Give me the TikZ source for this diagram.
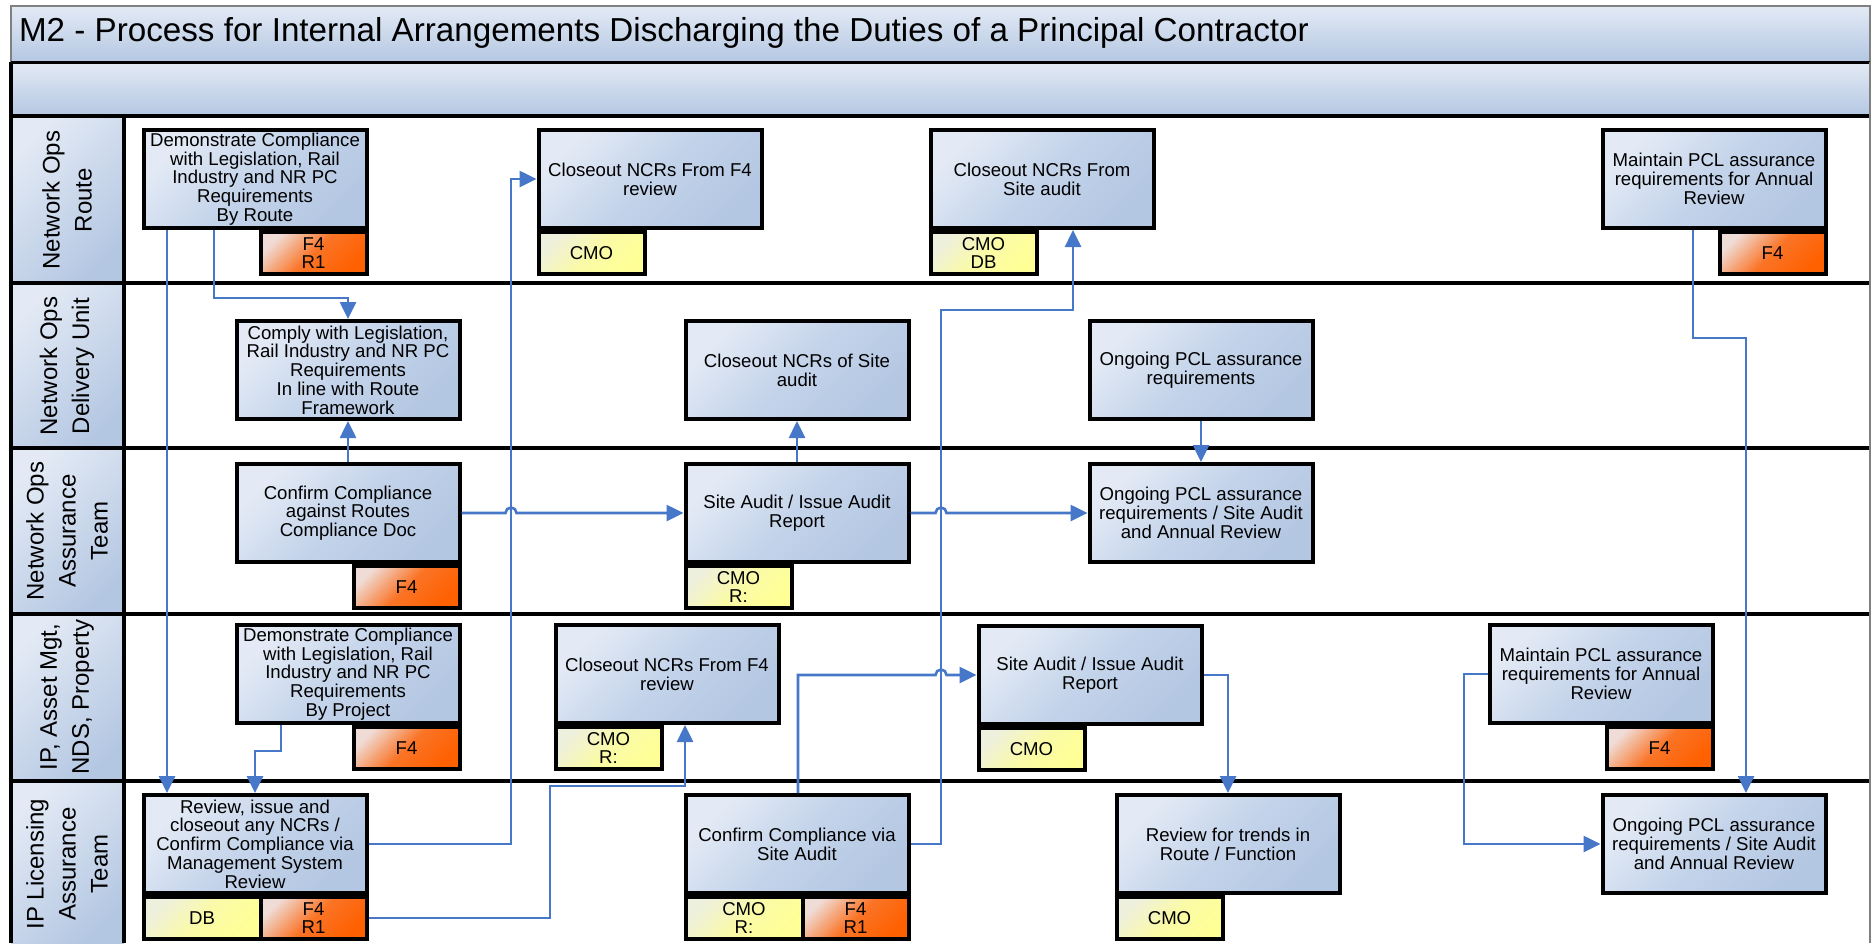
\documentclass[tikz,border=0pt]{standalone}
\usepackage{fontspec}
\setmainfont{Liberation Sans}
\usepackage{xcolor}
\usetikzlibrary{arrows.meta}

\definecolor{boxlite}{HTML}{E3EAF5}
\definecolor{boxdark}{HTML}{B4C7E2}
\definecolor{boxmid}{HTML}{C3D3EA}
\definecolor{ylwlite}{HTML}{EEF0DE}
\definecolor{ylwdark}{HTML}{FFFF96}
\definecolor{ylwmid}{HTML}{FAFAA8}
\definecolor{orglite}{HTML}{F0DCD6}
\definecolor{orgdark}{HTML}{FF6000}
\definecolor{orgmid}{HTML}{FA7426}
\definecolor{flowblue}{HTML}{4677C8}

\begin{document}
\begin{tikzpicture}[x=0.5pt,y=-0.5pt,
  act/.style={draw=black, line width=2pt, top color=boxlite, bottom color=boxdark, middle color=boxmid, shading angle=45,
    minimum width=111.5pt, minimum height=49pt, inner sep=1pt, align=center,
    font=\fontsize{9.3}{9.4}\selectfont},
  tagy/.style={draw=black, line width=2pt, top color=ylwlite, bottom color=ylwdark, middle color=ylwmid, shading angle=45,
    minimum width=53pt, minimum height=21pt, inner sep=0pt, align=center,
    font=\fontsize{9.3}{9.4}\selectfont},
  tago/.style={tagy, top color=orglite, bottom color=orgdark, middle color=orgmid, shading angle=45},
  flow/.style={draw=flowblue, line width=1.3pt, -{Triangle[length=8.5pt,width=8pt]}},
  lanelbl/.style={rotate=90, align=center, font=\fontsize{12}{16}\selectfont}
]
\useasboundingbox (0,0) rectangle (1872,943);
%% title
\draw[gray, line width=0.6pt, top color=boxlite, bottom color=boxdark] (11,6) rectangle (1870,62);
\node[anchor=west, font=\fontsize{16.6}{18}\selectfont] (ttl) at (12,33)
  {M2 - Process for Internal Arrangements Discharging the Duties of a Principal Contractor};
%% header band
\shade[top color=boxlite, bottom color=boxdark] (11,62) rectangle (1870,116);
%% lane labels
\foreach \ya/\yb in {116/283, 283/448, 448/614, 614/781, 781/943}
  \shade[top color=boxlite, bottom color=boxdark, shading angle=45] (11,\ya) rectangle (124,\yb);
\node[lanelbl] (lnRoute) at (67,200) {Network Ops\\Route};
\node[lanelbl] (lnDU) at (67,366) {Network Ops\\Delivery Unit};
\node[lanelbl] (lnNOA) at (67,531) {Network Ops\\Assurance\\Team};
\node[lanelbl] (lnIP) at (67,697) {IP, Asset Mgt,\\NDS, Property};
\node[lanelbl] (lnIPL) at (67,864) {IP Licensing\\Assurance\\Team};
%% lane lines
\draw[line width=1.5pt] (11,62) -- (1870,62);
\foreach \y in {116,283,448,614,781}
  \draw[line width=2pt] (11,\y) -- (1870,\y);
\draw[line width=2pt] (11,62) -- (11,943);
\draw[line width=2pt] (124,116) -- (124,943);
\draw[gray, line width=0.6pt] (1870,62) -- (1870,943);

%% Network Ops Route
\node[act] (demoRoute) at (255,179) {Demonstrate Compliance\\with Legislation, Rail\\Industry and NR PC\\Requirements\\By Route};
\node[tago, anchor=north east] (demoRoute-t) at (demoRoute.south east) {F4\\R1};
\node[act] (closeF4Route) at (650,179) {Closeout NCRs From F4\\review};
\node[tagy, anchor=north west] (closeF4Route-t) at (closeF4Route.south west) {CMO};
\node[act] (closeSiteRoute) at (1042,179) {Closeout NCRs From\\Site audit};
\node[tagy, anchor=north west] (closeSiteRoute-t) at (closeSiteRoute.south west) {CMO\\DB};
\node[act] (maintRoute) at (1714,179) {Maintain PCL assurance\\requirements for Annual\\Review};
\node[tago, anchor=north east] (maintRoute-t) at (maintRoute.south east) {F4};

%% Network Ops Delivery Unit
\node[act] (comply) at (348,370) {Comply with Legislation,\\Rail Industry and NR PC\\Requirements\\In line with Route\\Framework};
\node[act] (closeSiteDU) at (797,370) {Closeout NCRs of Site\\audit};
\node[act] (ongoingDU) at (1201,370) {Ongoing PCL assurance\\requirements};

%% Network Ops Assurance Team
\node[act] (confirmDoc) at (348,513) {Confirm Compliance\\against Routes\\Compliance Doc};
\node[tago, anchor=north east] (confirmDoc-t) at (confirmDoc.south east) {F4};
\node[act] (auditNO) at (797,513) {Site Audit / Issue Audit\\Report};
\node[tagy, anchor=north west] (auditNO-t) at (auditNO.south west) {CMO\\R:};
\node[act] (ongoingNO) at (1201,513) {Ongoing PCL assurance\\requirements / Site Audit\\and Annual Review};

%% IP, Asset Mgt, NDS, Property
\node[act] (demoProject) at (348,674) {Demonstrate Compliance\\with Legislation, Rail\\Industry and NR PC\\Requirements\\By Project};
\node[tago, anchor=north east] (demoProject-t) at (demoProject.south east) {F4};
\node[act] (closeF4IP) at (667,674) {Closeout NCRs From F4\\review};
\node[tagy, anchor=north west] (closeF4IP-t) at (closeF4IP.south west) {CMO\\R:};
\node[act] (auditIP) at (1090,675) {Site Audit / Issue Audit\\Report};
\node[tagy, anchor=north west] (auditIP-t) at (auditIP.south west) {CMO};
\node[act] (maintIP) at (1601,674) {Maintain PCL assurance\\requirements for Annual\\Review};
\node[tago, anchor=north east] (maintIP-t) at (maintIP.south east) {F4};

%% IP Licensing Assurance Team
\node[act] (reviewMS) at (255,844) {Review, issue and\\closeout any NCRs /\\Confirm Compliance via\\Management System\\Review};
\node[tago, anchor=north east] (reviewMS-t2) at (reviewMS.south east) {F4\\R1};
\node[tagy, anchor=north west, minimum width=58.5pt] (reviewMS-t1) at (reviewMS.south west) {DB};
\node[act] (confirmSite) at (797,844) {Confirm Compliance via\\Site Audit};
\node[tago, anchor=north east] (confirmSite-t2) at (confirmSite.south east) {F4\\R1};
\node[tagy, anchor=north west, minimum width=58.5pt] (confirmSite-t1) at (confirmSite.south west) {CMO\\R:};
\node[act] (trends) at (1228,844) {Review for trends in\\Route / Function};
\node[tagy, anchor=north west] (trends-t) at (trends.south west) {CMO};
\node[act] (ongoingIP) at (1714,844) {Ongoing PCL assurance\\requirements / Site Audit\\and Annual Review};

%% flows
\draw[flow] (167,0 |- demoRoute.south) -- (167,0 |- reviewMS.north);
\draw[flow] (214,0 |- demoRoute.south) |- (298,298) -| (comply.north);
\draw[flow] (confirmDoc.north) -- (comply.south);
\draw[flow] (confirmDoc.east) -- (505.5,0 |- confirmDoc.east) arc[start angle=180, end angle=0, radius=2.75pt] -- (auditNO.west);
\draw[flow] (reviewMS.east) -| (511,0 |- closeF4Route.west) -- (closeF4Route.west);
\draw[flow] (reviewMS-t2.east) -| (550,786) -| (685,0 |- closeF4IP.south);
\draw[flow] (798,0 |- confirmSite.north) |- (935.5,0 |- auditIP.west) arc[start angle=180, end angle=0, radius=2.75pt] -- (auditIP.west);
\draw[flow] (confirmSite.east) -| (941,310) -| (1073,0 |- closeSiteRoute.south);
\draw[flow] (auditNO.north) -- (closeSiteDU.south);
\draw[flow] (auditNO.east) -- (935.5,0 |- auditNO.east) arc[start angle=180, end angle=0, radius=2.75pt] -- (ongoingNO.west);
\draw[flow] (ongoingDU.south) -- (ongoingNO.north);
\draw[flow] (auditIP.east) -| (trends.north);
\draw[flow] (1693,0 |- maintRoute.south) |- (1746,338) -- (1746,0 |- ongoingIP.north);
\draw[flow] (maintIP.west) -| (1464,0 |- ongoingIP.west) -- (ongoingIP.west);
\draw[flow] (281,0 |- demoProject.south) |- (255,751) -- (255,0 |- reviewMS.north);
\end{tikzpicture}
\end{document}
